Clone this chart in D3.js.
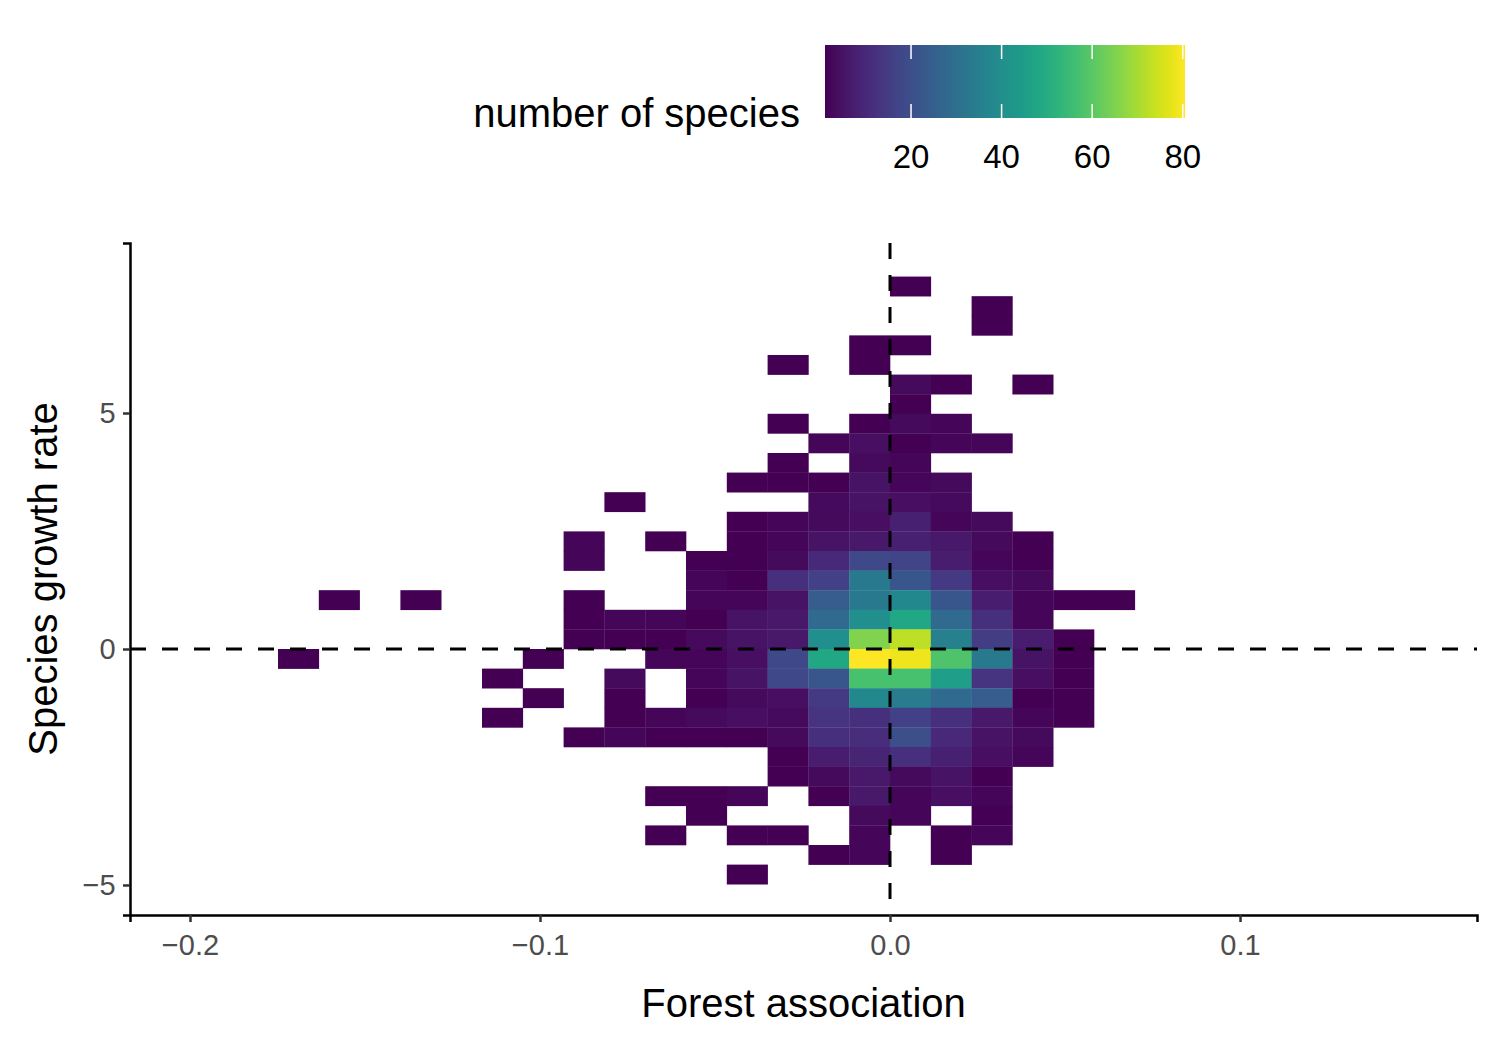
<!DOCTYPE html>
<meta charset='utf-8'>
<title>Forest association vs growth rate</title>
<style>
  body { margin: 0; background: #fff; font-family: Arial, 'Liberation Sans', sans-serif; }
</style>
<svg width='1500' height='1050'></svg>
<script src='https://cdn.jsdelivr.net/npm/d3@7'></script>
<script>
// bin size in data units
var binW = 0.011657
var binH = 0.4153

// bins: column index (x = col*binW), row index (y = row*binH), count
var binCol = [
  0, 2, 2, -1, 0, -3, -1,
  0, 1, 3, 0,
  -3, -1, 0, 1,
  -2, -1, 0, 1, 2,
  -3, -1, 0,
  -4, -3, -2, -1, 0, 1,
  -7, -2, -1, 0, 1,
  -4, -3, -2, -1, 0, 1, 2,
  -8, -6, -4, -3, -2, -1, 0, 1, 2, 3,
  -8, -5, -4, -3, -2, -1, 0, 1, 2, 3,
  -5, -4, -3, -2, -1, 0, 1, 2, 3,
  -14, -12, -8, -5, -4, -3, -2, -1, 0, 1, 2, 3, 4, 5,
  -8, -7, -6, -5, -4, -3, -2, -1, 0, 1, 2, 3,
  -8, -7, -6, -5, -4, -3, -2, -1, 0, 1, 2, 3, 4,
  -15, -9, -6, -5, -4, -3, -2, -1, 0, 1, 2, 3, 4,
  -10, -7, -5, -4, -3, -2, -1, 0, 1, 2, 3, 4,
  -9, -7, -5, -4, -3, -2, -1, 0, 1, 2, 3, 4,
  -10, -7, -6, -5, -4, -3, -2, -1, 0, 1, 2, 3, 4,
  -8, -7, -6, -5, -4, -3, -2, -1, 0, 1, 2, 3,
  -3, -2, -1, 0, 1, 2, 3,
  -3, -2, -1, 0, 1, 2,
  -6, -5, -4, -2, -1, 0, 1, 2,
  -5, -1, 0, 2,
  -6, -4, -3, -1, 1, 2,
  -2, -1, 1,
  -4
]
var binRow = [
  18, 17, 16, 15, 15, 14, 14,
  13, 13, 13, 12,
  11, 11, 11, 11,
  10, 10, 10, 10, 10,
  9, 9, 9,
  8, 8, 8, 8, 8, 8,
  7, 7, 7, 7, 7,
  6, 6, 6, 6, 6, 6, 6,
  5, 5, 5, 5, 5, 5, 5, 5, 5, 5,
  4, 4, 4, 4, 4, 4, 4, 4, 4, 4,
  3, 3, 3, 3, 3, 3, 3, 3, 3,
  2, 2, 2, 2, 2, 2, 2, 2, 2, 2, 2, 2, 2, 2,
  1, 1, 1, 1, 1, 1, 1, 1, 1, 1, 1, 1,
  0, 0, 0, 0, 0, 0, 0, 0, 0, 0, 0, 0, 0,
  -1, -1, -1, -1, -1, -1, -1, -1, -1, -1, -1, -1, -1,
  -2, -2, -2, -2, -2, -2, -2, -2, -2, -2, -2, -2,
  -3, -3, -3, -3, -3, -3, -3, -3, -3, -3, -3, -3,
  -4, -4, -4, -4, -4, -4, -4, -4, -4, -4, -4, -4, -4,
  -5, -5, -5, -5, -5, -5, -5, -5, -5, -5, -5, -5,
  -6, -6, -6, -6, -6, -6, -6,
  -7, -7, -7, -7, -7, -7,
  -8, -8, -8, -8, -8, -8, -8, -8,
  -9, -9, -9, -9,
  -10, -10, -10, -10, -10, -10,
  -11, -11, -11,
  -12
]
var binCount = [
  1, 1, 1, 1, 1, 1, 1,
  3, 1, 1, 1,
  1, 1, 3, 2,
  2, 4, 1, 2, 2,
  1, 3, 2,
  1, 1, 1, 5, 2, 3,
  1, 3, 5, 4, 3,
  1, 2, 3, 4, 8, 2, 3,
  2, 1, 1, 2, 5, 6, 8, 6, 3, 1,
  2, 1, 1, 3, 10, 18, 17, 7, 2, 1,
  2, 1, 12, 16, 33, 22, 14, 4, 3,
  1, 1, 1, 2, 2, 5, 24, 33, 38, 22, 7, 2, 1, 1,
  1, 2, 2, 1, 5, 6, 28, 40, 48, 28, 12, 2,
  1, 1, 1, 3, 5, 6, 40, 65, 72, 35, 15, 7, 1,
  1, 1, 2, 2, 4, 18, 48, 80, 78, 58, 33, 5, 1,
  1, 3, 2, 5, 18, 22, 57, 57, 45, 13, 4, 1,
  1, 1, 1, 3, 4, 14, 38, 34, 28, 24, 1, 1,
  1, 1, 2, 3, 4, 3, 13, 12, 16, 12, 6, 2, 1,
  1, 2, 1, 1, 1, 3, 12, 11, 20, 10, 5, 3,
  1, 7, 9, 12, 8, 4, 2,
  1, 3, 6, 3, 5, 1,
  1, 1, 2, 1, 6, 2, 4, 2,
  1, 3, 2, 1,
  1, 1, 1, 2, 1, 2,
  1, 2, 1,
  1
]
var xTicks = [-0.2, -0.1, 0.0, 0.1]
var yTicks = [-5, 0, 5]
var legendTicks = [20, 40, 60, 80]

var svg = d3.select('svg')
var m = {left: 130, right: 1477, top: 243, bottom: 915}

var x = d3.scaleLinear().domain([-0.21714, 0.16771]).range([m.left, m.right])
var y = d3.scaleLinear().domain([-5.636, 8.602]).range([m.bottom, m.top])
var color = d3.scaleSequential(d3.interpolateViridis).domain([1, 80])

var bins = binCount.map((c, i) => ({col: binCol[i], row: binRow[i], n: c}))

svg.append('g').selectAll('rect').data(bins).join('rect')
  .attr('x', d => x(d.col * binW))
  .attr('width', d => x((d.col + 1) * binW) - x(d.col * binW) + 0.3)
  .attr('y', d => y((d.row + 1) * binH))
  .attr('height', d => y(d.row * binH) - y((d.row + 1) * binH) + 0.3)
  .attr('fill', d => color(d.n))

// reference lines
svg.append('line').attr('x1', m.left).attr('x2', m.right).attr('y1', y(0)).attr('y2', y(0))
  .attr('stroke', '#000').attr('stroke-width', 3).attr('stroke-dasharray', '16,16')
svg.append('line').attr('x1', x(0)).attr('x2', x(0)).attr('y1', m.top).attr('y2', m.bottom)
  .attr('stroke', '#000').attr('stroke-width', 3).attr('stroke-dasharray', '16,16')

// axes
var xAxis = svg.append('g').attr('transform', `translate(0,${m.bottom})`)
  .call(d3.axisBottom(x).tickValues(xTicks).tickFormat(d3.format('.1f')).tickSizeOuter(0).tickSize(7))
var yAxis = svg.append('g').attr('transform', `translate(${m.left},0)`)
  .call(d3.axisLeft(y).tickValues(yTicks).tickSizeOuter(0).tickSize(7))
;[xAxis, yAxis].forEach(g => {
  g.select('.domain').attr('stroke', '#000').attr('stroke-width', 2.5)
  g.selectAll('.tick line').attr('stroke', '#333').attr('stroke-width', 2.5)
  g.selectAll('.tick text').attr('fill', '#4d4d4d').attr('font-size', 29)
    .attr('font-family', 'Arial, Liberation Sans, sans-serif')
})
xAxis.selectAll('.tick text').attr('dy', '1.05em')
yAxis.selectAll('.tick text').attr('dx', '-0.15em')

svg.append('text').attr('x', (m.left + m.right) / 2).attr('y', 1017)
  .attr('text-anchor', 'middle').attr('font-size', 40).text('Forest association')
svg.append('text').attr('transform', `translate(57,${(m.top + m.bottom) / 2}) rotate(-90)`)
  .attr('text-anchor', 'middle').attr('font-size', 40).text('Species growth rate')

// legend colorbar
var lg = {x0: 825, x1: 1185, y0: 45, y1: 118}
var lx = d3.scaleLinear().domain([1, 80.5]).range([lg.x0, lg.x1])
var defs = svg.append('defs')
var grad = defs.append('linearGradient').attr('id', 'vir')
d3.range(0, 1.0001, 0.05).forEach(t => {
  grad.append('stop').attr('offset', t).attr('stop-color', d3.interpolateViridis(t))
})
svg.append('rect').attr('x', lg.x0).attr('y', lg.y0).attr('width', lg.x1 - lg.x0)
  .attr('height', lg.y1 - lg.y0).attr('fill', 'url(#vir)')
legendTicks.forEach(t => {
  svg.append('line').attr('x1', lx(t)).attr('x2', lx(t)).attr('y1', lg.y0).attr('y2', lg.y0 + 14)
    .attr('stroke', '#fff').attr('stroke-width', 1.5)
  svg.append('line').attr('x1', lx(t)).attr('x2', lx(t)).attr('y1', lg.y1 - 14).attr('y2', lg.y1)
    .attr('stroke', '#fff').attr('stroke-width', 1.5)
  svg.append('text').attr('x', lx(t)).attr('y', 168).attr('text-anchor', 'middle')
    .attr('font-size', 33).text(t)
})
svg.append('text').attr('x', 800).attr('y', 127).attr('text-anchor', 'end')
  .attr('font-size', 40).text('number of species')
</script>
